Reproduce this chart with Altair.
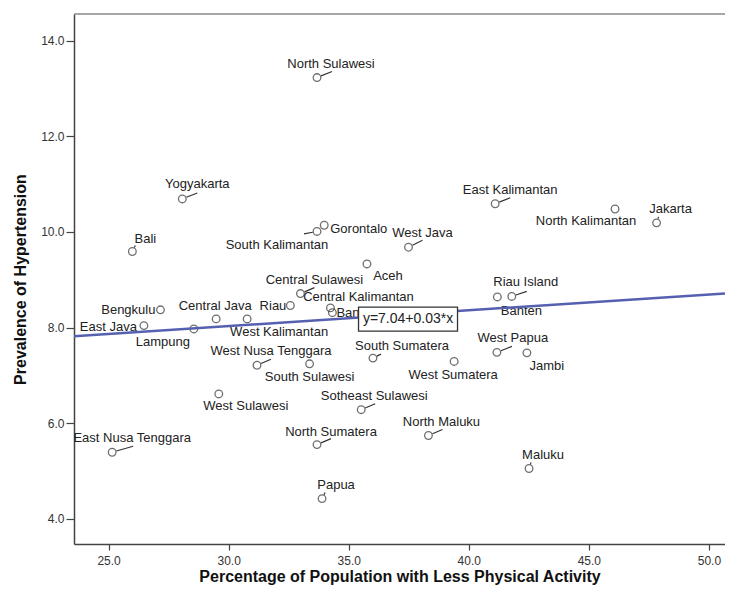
import math
import altair as alt
import pandas as pd

# ---------------- data ----------------
provinces = [
    "North Sulawesi", "Yogyakarta", "Bali", "South Kalimantan", "Gorontalo",
    "West Java", "Aceh", "East Kalimantan", "North Kalimantan", "Jakarta",
    "Riau Island", "Banten", "West Papua", "Jambi", "Bengkulu",
    "East Java", "Lampung", "Central Java", "West Kalimantan", "Riau",
    "West Nusa Tenggara", "West Sulawesi", "East Nusa Tenggara", "Central Sulawesi", "Central Kalimantan",
    "Bangka Belitung", "South Sumatera", "West Sumatera", "South Sulawesi", "Sotheast Sulawesi",
    "North Sumatera", "North Maluku", "Papua", "Maluku",
]
less_activity = [
    33.68, 28.07, 25.99, 33.68, 33.98,
    37.49, 35.76, 41.10, 46.09, 47.82,
    41.79, 41.19, 41.17, 42.42, 27.16,
    26.47, 28.55, 29.48, 30.77, 32.57,
    31.18, 29.59, 25.15, 32.99, 34.24,
    34.32, 36.01, 39.39, 33.37, 35.52,
    33.68, 38.32, 33.89, 42.51,
]
hypertension = [
    13.23, 10.69, 9.59, 10.01, 10.14,
    9.68, 9.33, 10.59, 10.48, 10.19,
    8.65, 8.64, 7.48, 7.47, 8.37,
    8.04, 7.97, 8.18, 8.18, 8.46,
    7.21, 6.61, 5.39, 8.71, 8.41,
    8.31, 7.36, 7.29, 7.24, 6.28,
    5.55, 5.74, 4.42, 5.05,
]

fit_intercept = 7.04
fit_slope = 0.033
equation_text = "y=7.04+0.03*x"
equation_anchor = (37.47, 8.175)  # data units

x_ticks = [25, 30, 35, 40, 45, 50]
y_ticks = [4, 6, 8, 10, 12, 14]

x_title = "Percentage of Population with Less Physical Activity"
y_title = "Prevalence of Hypertension"

# ---------------- layout (pixels) ----------------
W, H = 651, 530
X_DOM = [23.56, 50.67]
Y_DOM = [3.47, 14.56]
PX_X = W / (X_DOM[1] - X_DOM[0])
PX_Y = H / (Y_DOM[1] - Y_DOM[0])

# label offsets (pixels, +dy = down) and alignment
label_dx = [14, 15, 13, -40, 6, 14, 21, 15, -29, 14,
            14, 24, 16, 20, -5, -7, -31, -1, 32, -4,
            14, 27, 20, 14, 28, 4, 29, -1, 0, 13,
            14, 13, 14, 14]
label_dy = [-14, -15, -13, 14, 4, -14, 12, -14, 12, -14,
            -14, 14, -14, 13, 0, 1, 13, -13, 13, 0,
            -14, 12, -14, -14, -11, 0, -12, 14, 13, -14,
            -13, -14, -14, -13]
label_align = ["center", "center", "center", "center", "left", "center", "center", "center", "center", "center",
               "center", "center", "center", "center", "right", "right", "center", "center", "center", "right",
               "center", "center", "center", "center", "center", "left", "center", "center", "center", "center",
               "center", "center", "center", "center"]
# leader line end offsets (pixels); (0,0) = none
leader_dx = [15, 15, 3, -13, 0, 14, 0, 15, 0, 2,
             15, 0, 15, 0, 0, 0, 0, 0, 0, 0,
             14, 0, 21, 14, 0, 0, 8, 0, 0, 14,
             14, 14, 3, 2]
leader_dy = [-6, -6, -6, 2.5, 0, -7, 0, -6, 0, -6,
             -5, 0, -6, 0, 0, 0, 0, 0, 0, 0,
             -6, 0, -6, -6, 0, 0, -4, 0, 0, -6,
             -6, -6, -6, -6]

R = 4.4
rows = []
for i, name in enumerate(provinces):
    x, y = less_activity[i], hypertension[i]
    ldx, ldy = leader_dx[i], leader_dy[i]
    d = math.hypot(ldx, ldy)
    has = d > 0
    sx = ldx * R / d if has else 0
    sy = ldy * R / d if has else 0
    rows.append(dict(
        name=name, x=x, y=y,
        lx=x + label_dx[i] / PX_X, ly=y - label_dy[i] / PX_Y,
        align=label_align[i],
        has_leader=has,
        l0x=x + sx / PX_X, l0y=y - sy / PX_Y,
        l1x=x + ldx / PX_X, l1y=y - ldy / PX_Y,
    ))
df = pd.DataFrame(rows)

fit_df = pd.DataFrame({
    "x": X_DOM,
    "y": [fit_intercept + fit_slope * v for v in X_DOM],
})
eq_df = pd.DataFrame({"x": [equation_anchor[0]], "y": [equation_anchor[1]], "t": [equation_text]})
frame_df = pd.DataFrame({"x": [X_DOM[0]], "x2": [X_DOM[1]], "y": [Y_DOM[1]]})

FONT = "Liberation Sans"
xs = alt.Scale(domain=X_DOM, nice=False, zero=False)
ys = alt.Scale(domain=Y_DOM, nice=False, zero=False)

x_axis = alt.Axis(values=x_ticks, format=".1f", title=x_title, grid=False, tickSize=6,
                  labelPadding=5, titlePadding=2)
y_axis = alt.Axis(values=y_ticks, format=".1f", title=y_title, grid=False, tickSize=8,
                  labelPadding=2, titlePadding=12)

base = alt.Chart(df)

points = base.mark_point(shape="circle", filled=False, size=58, strokeWidth=1.3, color="#333").encode(
    x=alt.X("x:Q", scale=xs, axis=x_axis),
    y=alt.Y("y:Q", scale=ys, axis=y_axis),
)

leaders = base.transform_filter("datum.has_leader").mark_rule(color="#333", strokeWidth=1.2).encode(
    x=alt.X("l0x:Q", scale=xs), y=alt.Y("l0y:Q", scale=ys),
    x2="l1x:Q", y2="l1y:Q",
)

def label_layer(al):
    return base.transform_filter(alt.datum.align == al).mark_text(
        align=al, baseline="middle", font=FONT, fontSize=13, color="#222"
    ).encode(x=alt.X("lx:Q", scale=xs), y=alt.Y("ly:Q", scale=ys), text="name:N")

labels = label_layer("center") + label_layer("left") + label_layer("right")

fit = alt.Chart(fit_df).mark_line(color="#5560b0", strokeWidth=2.5, clip=True).encode(
    x=alt.X("x:Q", scale=xs), y=alt.Y("y:Q", scale=ys)
)

box_path = "M-1,-0.2424L1,-0.2424L1,0.2424L-1,0.2424Z"
eq_box = alt.Chart(eq_df).mark_point(shape=box_path, size=99 * 99, filled=True, fill="white",
                                     stroke="#333", strokeWidth=1.3, opacity=1).encode(
    x=alt.X("x:Q", scale=xs), y=alt.Y("y:Q", scale=ys)
)
eq_text = alt.Chart(eq_df).mark_text(font=FONT, fontSize=14, color="#222", baseline="middle").encode(
    x=alt.X("x:Q", scale=xs), y=alt.Y("y:Q", scale=ys), text="t:N"
)

top_border = alt.Chart(frame_df).mark_rule(color="#888", strokeWidth=1.5).encode(
    x=alt.X("x:Q", scale=xs), x2="x2:Q", y=alt.Y("y:Q", scale=ys)
)

chart = alt.layer(
    top_border, leaders, points, labels, fit, eq_box, eq_text
).properties(
    width=W, height=H,
    autosize=alt.AutoSizeParams(type="none"),
    padding={"left": 66, "top": 6, "right": 0, "bottom": 42},
    background="white",
    view=alt.ViewBackground(strokeOpacity=0, strokeWidth=0),
).configure_view(strokeOpacity=0, strokeWidth=0).configure_axis(
    domainColor="#444", domainWidth=1.5, tickColor="#444", tickWidth=1.2,
    labelFont=FONT, labelFontSize=12, labelColor="#333",
    titleFont=FONT, titleFontSize=16, titleFontWeight="bold", titleColor="#111",
)

chart.save("out.html", embed_options={"renderer": "svg", "actions": False})
